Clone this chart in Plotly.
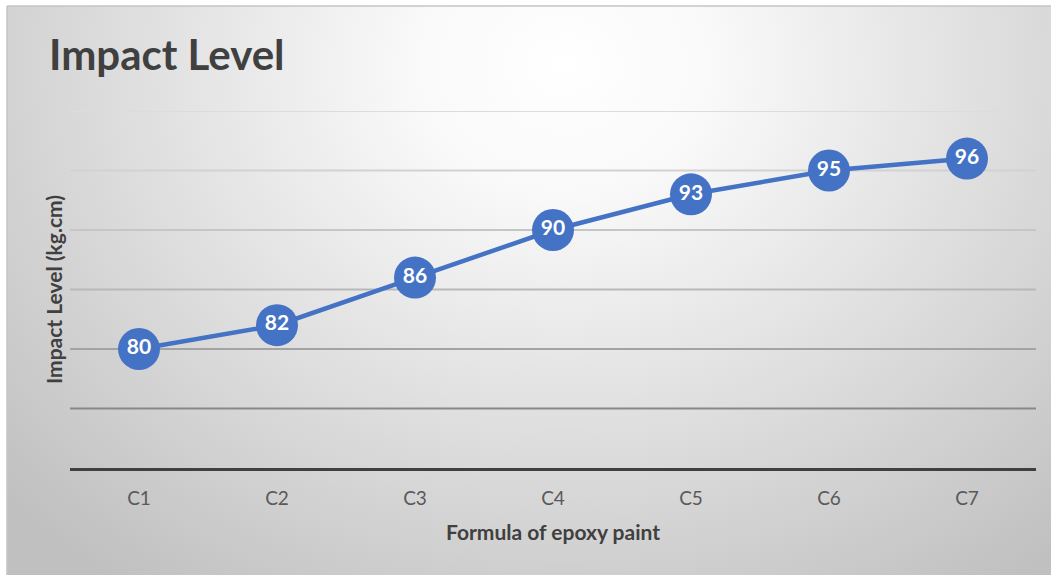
import base64
import plotly.graph_objects as go

categories = ["C1", "C2", "C3", "C4", "C5", "C6", "C7"]
impact = [80, 82, 86, 90, 93, 95, 96]
grid_values = [75, 80, 85, 90, 95, 100]
grid_colors = ["#888888", "#a3a3a3", "#b8b8b8", "#c6c6c6", "#d2d2d2", "#dcdcdc"]

W, H = 1051, 575
L, R, T, B = 70, 1036, 111, 468

svg = f'''<svg xmlns="http://www.w3.org/2000/svg" width="{W}" height="{H}" viewBox="0 0 {W} {H}">
<defs><radialGradient id="g" gradientUnits="userSpaceOnUse" cx="560" cy="60" r="760"
 gradientTransform="translate(560 60) scale(1 0.85) translate(-560 -60)">
<stop offset="0" stop-color="#ffffff"/><stop offset="0.2" stop-color="#f9f9f9"/>
<stop offset="1" stop-color="#c0c0c0"/></radialGradient></defs>
<rect x="0" y="0" width="{W}" height="{H}" fill="url(#g)"/></svg>'''
src = "data:image/svg+xml;base64," + base64.b64encode(svg.encode()).decode()

def px(x):
    return (x - L) / (R - L)

def py(y):
    return (B - y) / (B - T)

fig = go.Figure()
fig.add_trace(go.Scatter(
    x=categories, y=impact, mode="lines+markers+text",
    line=dict(color="#4472C4", width=4.5),
    marker=dict(size=42, color="#4472C4", line=dict(width=0)),
    text=[str(v) for v in impact], textposition="middle center",
    textfont=dict(family="Lato", size=21, color="white", weight="bold"),
    cliponaxis=False, hoverinfo="skip", showlegend=False,
))

shapes = []
for v, c in zip(grid_values, grid_colors):
    shapes.append(dict(type="line", xref="paper", yref="y", x0=0, x1=1, y0=v, y1=v,
                       line=dict(color=c, width=2), layer="below"))
# border of the chart area (top and left)
shapes.append(dict(type="line", xref="paper", yref="paper", x0=px(7), x1=px(1051),
                   y0=py(6), y1=py(6), line=dict(color="#c4c4c4", width=1.5)))
shapes.append(dict(type="line", xref="paper", yref="paper", x0=px(7), x1=px(7),
                   y0=py(6), y1=py(575), line=dict(color="#c4c4c4", width=1.5)))

fig.update_layout(
    width=W, height=H,
    margin=dict(l=L, r=W - R, t=T, b=H - B),
    paper_bgcolor="white", plot_bgcolor="rgba(0,0,0,0)",
    images=[dict(source=src, xref="paper", yref="paper", x=px(7), y=py(6),
                 sizex=(W - 7) / (R - L), sizey=(H - 6) / (B - T),
                 xanchor="left", yanchor="top", sizing="stretch", layer="below")],
    shapes=shapes,
    title=dict(text="Impact Level", x=49 / W, xref="container", xanchor="left",
               y=1 - 55 / H, yref="container", yanchor="middle",
               font=dict(family="Lato", size=42, color="#404040", weight="bold")),
    xaxis=dict(type="category", range=[-0.5, 6.5], showgrid=False,
               showline=True, linecolor="#404040", linewidth=3,
               ticks="", tickfont=dict(family="Lato", size=19, color="#595959"),
               ticklabelstandoff=11,
               title=dict(text="Formula of epoxy paint", standoff=18,
                          font=dict(family="Lato", size=21, color="#404040", weight="bold"))),
    yaxis=dict(range=[70, 100], showgrid=False, showticklabels=False, zeroline=False,
               showline=False, ticks="",
               title=dict(text="Impact Level (kg.cm)", standoff=0,
                          font=dict(family="Lato", size=21, color="#404040", weight="bold"))),
)

fig.write_html("out.html")
